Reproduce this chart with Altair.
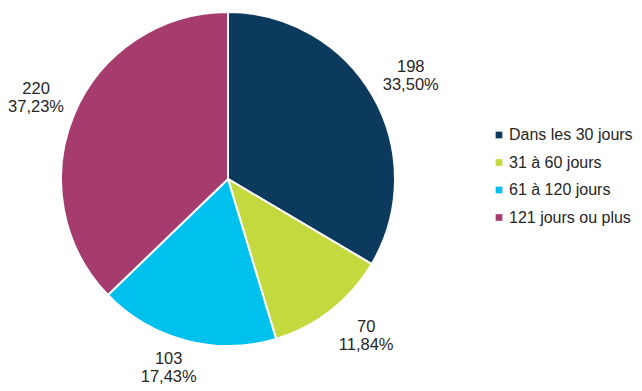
import math
import altair as alt
import pandas as pd

categories = ["Dans les 30 jours", "31 à 60 jours", "61 à 120 jours", "121 jours ou plus"]
values = [198, 70, 103, 220]
colors = ["#0C3A5D", "#C4D93E", "#00C0EE", "#A63C6E"]

total = sum(values)
labels = []
for v in values:
    pct = f"{v / total * 100:.2f}".replace(".", ",")
    labels.append(f"{v}\n{pct}%")

# outside-end label placement (like a spreadsheet): anchor a point just beyond
# the arc at each slice's mid angle, then push the label box away from it
R_OUT = 177
HW, HH = 29, 18
lt, lr = [], []
cum = 0
for v in values:
    mid = (cum + v / 2) / total * 2 * math.pi
    cum += v
    s, c = math.sin(mid), math.cos(mid)
    px, py = R_OUT * s, -R_OUT * c
    ox = HW * max(-1, min(1, s / 0.5))
    oy = -HH * max(-1, min(1, c / 0.6))
    lx, ly = px + ox, py + oy
    lr.append(math.hypot(lx, ly))
    lt.append(math.atan2(lx, -ly) % (2 * math.pi))

df = pd.DataFrame({"cat": categories, "val": values, "order": list(range(len(values))),
                   "label": labels, "lt": lt, "lr": lr})

cx, cy = 218, 171

pie = alt.Chart(df).mark_arc(stroke="white", strokeWidth=2).encode(
    theta=alt.Theta("val:Q", stack=True),
    order=alt.Order("order:Q"),
    color=alt.Color(
        "cat:N",
        scale=alt.Scale(domain=categories, range=colors),
        sort=categories,
        legend=alt.Legend(
            title=None,
            orient="none",
            legendX=481,
            legendY=119,
            symbolType="square",
            symbolSize=45,
            symbolStrokeWidth=0,
            labelFont="Liberation Sans",
            labelFontSize=16,
            labelColor="#262626",
            rowPadding=11.5,
            labelOffset=2,
        ),
    ),
    x=alt.value(cx),
    y=alt.value(cy),
    radius=alt.value(167),
)

text = alt.Chart(df).mark_text(
    font="Liberation Sans",
    fontSize=16.5,
    color="#262626",
    lineBreak="\n",
    lineHeight=18,
    align="center",
    baseline="middle",
    dy=-9,
).encode(
    text="label:N",
    theta=alt.Theta("lt:Q", scale=None, stack=None),
    radius=alt.Radius("lr:Q", scale=None),
    x=alt.value(cx),
    y=alt.value(cy),
)

chart = (pie + text).properties(width=620, height=370, padding=0).configure_view(stroke=None)

chart.save("out.html", embed_options={"renderer": "svg", "actions": False})
